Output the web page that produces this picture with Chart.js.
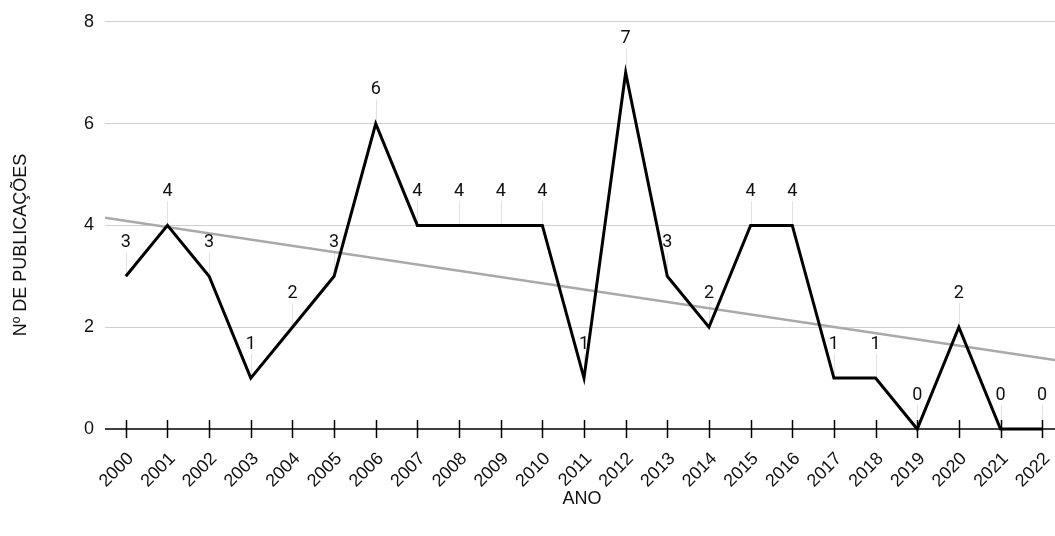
<!DOCTYPE html>
<html lang="pt">
<head>
<meta charset="utf-8">
<title>Nº de publicações por ano</title>
<script src="https://cdn.jsdelivr.net/npm/chart.js@4.4.1/dist/chart.umd.min.js"></script>
<style>
  html, body { margin: 0; padding: 0; background: #fff; overflow: hidden; }
  #wrap { width: 1064px; height: 536px; }
</style>
</head>
<body>
<div id="wrap"><canvas id="chart" width="1064" height="536"></canvas></div>
<script>
// Publications per year
const years = [2000, 2001, 2002, 2003, 2004, 2005, 2006, 2007, 2008, 2009, 2010, 2011,
               2012, 2013, 2014, 2015, 2016, 2017, 2018, 2019, 2020, 2021, 2022];
const publications = [3, 4, 3, 1, 2, 3, 6, 4, 4, 4, 4, 1, 7, 3, 2, 4, 4, 1, 1, 0, 2, 0, 0];

// Linear trend line, given by its two ends (x in years)
const trendYears = [1999.5, 2022.5];
const trendValues = [4.15, 1.33];

const yTicks = [0, 2, 4, 6, 8];
const yTitle = 'Nº DE PUBLICAÇÕES';
const xTitle = 'ANO';

const axisFont = '"Liberation Sans", Arial, Helvetica, sans-serif';
const labelFont = 'Roboto, "Liberation Sans", Arial, sans-serif';
const textColor = '#111';

// Value labels with thin leader lines, the x axis with crossing ticks,
// slanted year labels and the axis titles
const decorations = {
  id: 'decorations',
  beforeDatasetsDraw(chart) {
    const { ctx, scales: { x, y }, chartArea } = chart;
    const y0 = y.getPixelForValue(0);
    ctx.save();
    // leader lines under the series
    ctx.strokeStyle = '#e2e2e2';
    ctx.lineWidth = 1;
    publications.forEach((v, i) => {
      const px = Math.round(x.getPixelForValue(years[i])) + 0.5;
      const py = y.getPixelForValue(v);
      ctx.beginPath();
      ctx.moveTo(px, py);
      ctx.lineTo(px, py - 24);
      ctx.stroke();
    });
    // x axis line and ticks
    ctx.strokeStyle = '#000';
    ctx.lineWidth = 1.5;
    ctx.beginPath();
    ctx.moveTo(chartArea.left, y0);
    ctx.lineTo(chartArea.right, y0);
    years.forEach(yr => {
      const px = Math.round(x.getPixelForValue(yr)) + 0.5;
      ctx.moveTo(px, y0 - 9);
      ctx.lineTo(px, y0 + 9);
    });
    ctx.stroke();
    ctx.restore();
  },
  afterDatasetsDraw(chart) {
    const { ctx, scales: { x, y }, chartArea } = chart;
    const y0 = y.getPixelForValue(0);
    ctx.save();
    ctx.fillStyle = textColor;
    ctx.font = '18px ' + labelFont;
    ctx.textAlign = 'center';
    ctx.textBaseline = 'middle';
    publications.forEach((v, i) => {
      ctx.fillText(String(v), x.getPixelForValue(years[i]), y.getPixelForValue(v) - 34);
    });
    // year labels at 45 degrees
    ctx.font = '18px ' + axisFont;
    ctx.textAlign = 'right';
    years.forEach(yr => {
      ctx.save();
      ctx.translate(x.getPixelForValue(yr) + 5, y0 + 27);
      ctx.rotate(-Math.PI / 4);
      ctx.fillText(String(yr), 0, 0);
      ctx.restore();
    });
    // axis titles
    ctx.textAlign = 'center';
    ctx.font = '18px ' + axisFont;
    ctx.fillText(xTitle, (chartArea.left + chartArea.right) / 2 - 2, 499);
    ctx.translate(21, 245);
    ctx.rotate(-Math.PI / 2);
    ctx.fillText(yTitle, 0, 0);
    ctx.restore();
  }
};

new Chart(document.getElementById('chart'), {
  type: 'line',
  data: {
    datasets: [
      {
        label: 'Publicações',
        data: years.map((yr, i) => ({ x: yr, y: publications[i] })),
        borderColor: '#000',
        borderWidth: 3,
        pointRadius: 0,
        tension: 0,
        clip: false
      },
      {
        label: 'Tendência',
        data: trendYears.map((yr, i) => ({ x: yr, y: trendValues[i] })),
        borderColor: '#a9a9a9',
        borderWidth: 2.5,
        pointRadius: 0,
        tension: 0
      }
    ]
  },
  options: {
    responsive: false,
    animation: false,
    events: [],
    layout: { padding: { left: 0, top: 19, right: 1, bottom: 0 } },
    plugins: { legend: { display: false }, tooltip: { enabled: false } },
    scales: {
      x: {
        type: 'linear',
        min: 1999.5,
        max: 2022.5,
        afterBuildTicks: s => { s.ticks = years.map(v => ({ value: v })); },
        afterFit: s => { s.height = 107; },
        grid: { display: false },
        border: { display: false },
        ticks: { display: false }
      },
      y: {
        min: 0,
        max: 8,
        afterBuildTicks: s => { s.ticks = yTicks.map(v => ({ value: v })); },
        afterFit: s => { s.width = 105; },
        grid: {
          color: c => (c.tick && c.tick.value === 0) ? 'rgba(0,0,0,0)' : '#cfcfcf',
          lineWidth: 1,
          drawTicks: false
        },
        border: { display: false },
        ticks: {
          padding: 11,
          color: textColor,
          font: { family: axisFont, size: 18 }
        }
      }
    }
  },
  plugins: [decorations]
});
</script>
</body>
</html>
